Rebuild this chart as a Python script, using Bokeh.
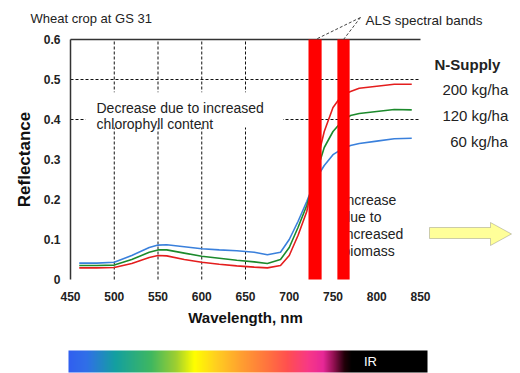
import numpy as np
from bokeh.plotting import figure
from bokeh.models import Label, Arrow, PolyAnnotation, FixedTicker, LinearAxis, Range1d
from bokeh.layouts import column
from bokeh.embed import file_html
from bokeh.resources import INLINE
from bokeh.core.properties import value

# ---- data ----
wavelength = [460, 480, 500, 520, 540, 550, 560, 580, 600, 620, 640, 660, 675, 690,
              700, 710, 720, 730, 740, 750, 760, 770, 780, 800, 820, 840]
refl_60 = [0.041, 0.041, 0.043, 0.060, 0.080, 0.086, 0.087, 0.082, 0.077, 0.074, 0.072, 0.068, 0.062, 0.068,
           0.100, 0.145, 0.195, 0.250, 0.285, 0.312, 0.326, 0.335, 0.340, 0.346, 0.352, 0.353]
refl_120 = [0.035, 0.035, 0.036, 0.050, 0.068, 0.074, 0.074, 0.066, 0.058, 0.053, 0.048, 0.044, 0.040, 0.050,
            0.080, 0.130, 0.185, 0.260, 0.330, 0.370, 0.395, 0.410, 0.415, 0.420, 0.425, 0.424]
refl_200 = [0.029, 0.029, 0.030, 0.040, 0.055, 0.060, 0.059, 0.050, 0.043, 0.038, 0.034, 0.031, 0.029, 0.035,
            0.060, 0.110, 0.170, 0.280, 0.370, 0.430, 0.460, 0.470, 0.478, 0.483, 0.488, 0.488]
series_names = ["200 kg/ha", "120 kg/ha", "60 kg/ha"]
als_band_left = [722, 755]
als_band_right = [737, 769]
x_ticks = [450, 500, 550, 600, 650, 700, 750, 800, 850]
y_ticks = [0, 0.1, 0.2, 0.3, 0.4, 0.5, 0.6]
y_tick_labels = ["0", "0.1", "0.2", "0.3", "0.4", "0.5", "0.6"]
grid_x = [500, 550, 600, 650]
grid_y = [0.4, 0.5]
increase_text = ["Increase", "due to", "increased", "biomass"]
decrease_text = ["Decrease due to increased", "chlorophyll content"]

FONT = "Liberation Sans"
C_BLUE = "#3a80dc"
C_GREEN = "#1c8a2c"
C_RED = "#e41e1e"
TXT = "#222222"

# frame covers whole main canvas; pixel mapping: 450nm->70px, 850nm->420px; 0->279px, 0.6->39px
p = figure(frame_width=520, frame_height=345, x_range=Range1d(370, 964.2857), y_range=Range1d(-0.165, 0.6975),
           x_axis_location=None, y_axis_location=None,
           output_backend="svg", toolbar_location=None, min_border=0)
p.outline_line_color = None
p.grid.visible = False

xax = LinearAxis(fixed_location=y_ticks[0], bounds=(x_ticks[0], x_ticks[-1]), ticker=FixedTicker(ticks=x_ticks))
xax.axis_line_color = None
xax.major_tick_line_color = None
xax.minor_tick_line_color = None
xax.major_tick_out = 0
xax.major_tick_in = 0
xax.major_label_standoff = 12
xax.major_label_text_font = FONT
xax.major_label_text_font_style = "bold"
xax.major_label_text_font_size = "12px"
xax.major_label_text_color = TXT
xax.axis_label = "Wavelength, nm"
xax.axis_label_text_font = FONT
xax.axis_label_text_font_style = "bold"
xax.axis_label_text_font_size = "15px"
xax.axis_label_standoff = 5
xax.axis_label_text_color = "#111111"
p.add_layout(xax, "below")

yax = LinearAxis(fixed_location=x_ticks[0], bounds=(y_ticks[0], y_ticks[-1]), ticker=FixedTicker(ticks=y_ticks))
yax.major_label_overrides = {t: l for t, l in zip(y_ticks, y_tick_labels)}
yax.axis_line_color = "#333333"
yax.axis_line_width = 1.5
yax.major_tick_line_color = None
yax.minor_tick_line_color = None
yax.major_tick_out = 0
yax.major_tick_in = 0
yax.major_label_standoff = 10
yax.major_label_text_font = FONT
yax.major_label_text_font_style = "bold"
yax.major_label_text_font_size = "12px"
yax.major_label_text_color = TXT
yax.axis_label = "Reflectance"
yax.axis_label_text_font = FONT
yax.axis_label_text_font_style = "bold"
yax.axis_label_text_font_size = "17px"
yax.axis_label_standoff = 7
yax.axis_label_text_color = "#111111"
p.add_layout(yax, "left")

# top border of plot area
p.segment(x0=[x_ticks[0]], x1=[x_ticks[-1]], y0=[y_ticks[-1]], y1=[y_ticks[-1]], line_color="#333333",
          line_width=1.5)

# dashed grid lines
p.segment(x0=grid_x, x1=grid_x, y0=[y_ticks[0]] * len(grid_x), y1=[y_ticks[-1]] * len(grid_x),
          line_color="#111111", line_dash="3 2", line_width=1)
p.segment(x0=[x_ticks[0]] * len(grid_y), x1=[x_ticks[-1]] * len(grid_y), y0=grid_y, y1=grid_y,
          line_color="#111111", line_dash="3 2", line_width=1)

# white box behind annotation text (covers grid)
p.quad(left=[467], right=[693], bottom=[0.38], top=[0.468], fill_color="white", line_color=None)
p.text(x=[479.7, 479.7], y=[0.43, 0.39], text=decrease_text,
       text_font=value(FONT), text_font_size="14px", text_color=TXT, text_baseline="alphabetic")

# curves
p.line(wavelength, refl_60, color=C_BLUE, line_width=1.6)
p.line(wavelength, refl_120, color=C_GREEN, line_width=1.6)
p.line(wavelength, refl_200, color=C_RED, line_width=1.6)

# increase text (partially hidden by band)
p.text(x=[760.9] * 4, y=[0.2, 0.1575, 0.115, 0.0725], text=increase_text,
       text_font=value(FONT), text_font_size="14px", text_color=TXT, text_baseline="alphabetic")

# ALS bands
p.quad(left=als_band_left, right=als_band_right, bottom=y_ticks[0], top=y_ticks[-1],
       fill_color="#ff0000", line_color=None)

# labels
def lab(x, y, t, size="12px", bold=False, color=TXT):
    p.add_layout(Label(x=x, y=y, text=t, text_font=FONT, text_font_size=size,
                       text_font_style="bold" if bold else "normal", text_color=color,
                       text_baseline="alphabetic"))

lab(404.3, 0.6525, "Wheat crop at GS 31", "13px")
lab(787, 0.6475, "ALS spectral bands", "13.5px")
lab(866, 0.5375, "N-Supply", "15px", bold=True)
lab(875, 0.475, series_names[0], "15px")
lab(875, 0.41, series_names[1], "15px")
lab(884, 0.345, series_names[2], "15px")

for xe in (730, 762):
    p.add_layout(Arrow(x_start=781.4, y_start=0.655, x_end=xe, y_end=0.6, start=None, end=None,
                       line_color="#444444", line_width=1, line_dash="3 2"))

# yellow block arrow
p.add_layout(PolyAnnotation(xs=[860.3, 930, 930, 954, 930, 930, 860.3],
                            ys=[0.13, 0.13, 0.1425, 0.11375, 0.085, 0.1025, 0.1025],
                            fill_color="#ffff99", fill_alpha=1, line_color="#555555", line_width=1))

# ---- spectrum bar (pixel-unit figure, full width so frames align) ----
p2 = figure(frame_width=520, frame_height=28, x_range=Range1d(0, 520), y_range=Range1d(0, 28),
            x_axis_location=None, y_axis_location=None,
            output_backend="svg", toolbar_location=None, min_border=0)
p2.grid.visible = False
p2.outline_line_color = None

stop_pos = [0.0, 0.05, 0.13, 0.23, 0.30, 0.35, 0.41, 0.48, 0.56, 0.61, 0.67, 0.71, 0.74, 0.77, 0.79, 1.0]
stop_col = ["#3060f0", "#3070e8", "#14a0a0", "#40b860", "#a0d030", "#ffff00", "#ffd020", "#ffa030",
            "#ff7040", "#ff5050", "#f83888", "#e82898", "#901050", "#200008", "#000000", "#000000"]
N = 359
t = np.linspace(0, 1, N)
rgb = np.array([[int(c[i:i + 2], 16) for i in (1, 3, 5)] for c in stop_col], dtype=float)
img = np.empty((1, N), dtype=np.uint32)
view = img.view(dtype=np.uint8).reshape((1, N, 4))
for k in range(3):
    view[0, :, k] = np.interp(t, stop_pos, rgb[:, k]).astype(np.uint8)
view[0, :, 3] = 255
p2.image_rgba(image=[img], x=68, y=1, dw=359, dh=22)
p2.add_layout(Label(x=370, y=12, text="IR", text_font=FONT, text_font_size="13px", text_color="white",
                    text_align="center", text_baseline="middle"))

layout = column(p, p2, spacing=0)
open("out.html", "w").write(file_html(layout, INLINE))
